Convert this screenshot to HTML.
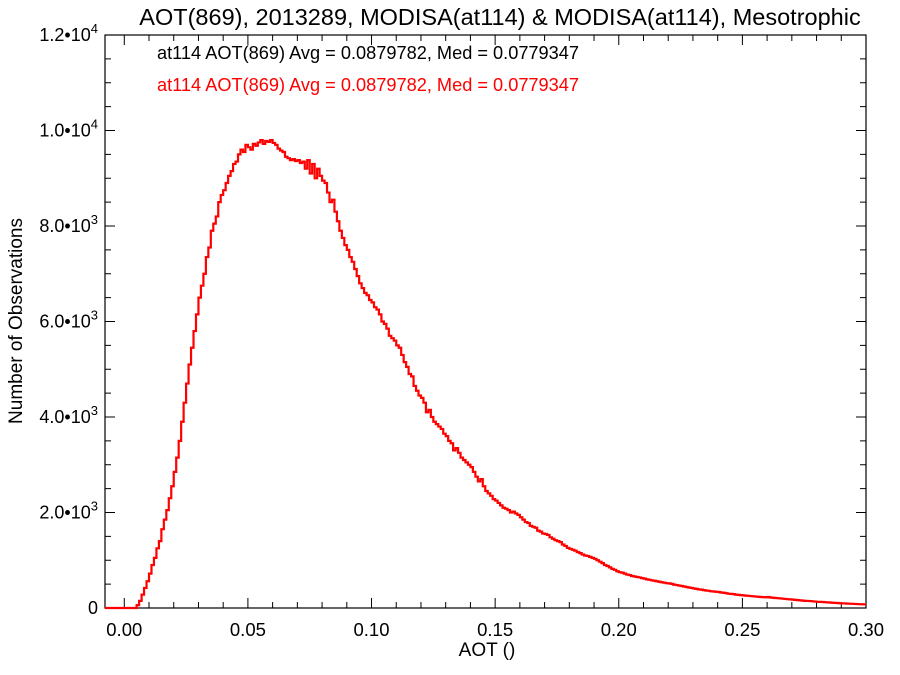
<!DOCTYPE html>
<html><head><meta charset="utf-8"><style>
body{margin:0;background:#fff;}
svg{display:block;font-family:"Liberation Sans",Helvetica,sans-serif;}
</style></head><body>
<svg id="chart" width="900" height="675" viewBox="0 0 900 675">
<text x="500" y="25" font-size="23.5" text-anchor="middle">AOT(869), 2013289, MODISA(at114) &amp; MODISA(at114), Mesotrophic</text>
<text x="157" y="59" font-size="18.2" fill="#000">at114 AOT(869) Avg = 0.0879782, Med = 0.0779347</text>
<text x="157" y="91" font-size="18.2" fill="#ff0000">at114 AOT(869) Avg = 0.0879782, Med = 0.0779347</text>
<text transform="translate(22,321) rotate(-90)" font-size="19" text-anchor="middle">Number of Observations</text>
<text x="487" y="656" font-size="19" text-anchor="middle">AOT ()</text>
<g id="axes"></g>
<path id="hist" fill="none" stroke="#ff0000" stroke-width="2.2"></path>
</svg>
<script>
const binStart = 0.0;
const binWidth = 0.001;
const counts = [
0,0,0,0,0,60,150,280,420,560,
720,900,1050,1250,1400,1650,1850,2050,2300,2550,
2850,3150,3500,3900,4300,4700,5100,5450,5800,6150,
6500,6750,7000,7350,7550,7900,8050,8200,8500,8650,
8750,8900,9050,9150,9300,9350,9500,9600,9550,9700,
9650,9600,9720,9680,9750,9800,9720,9780,9760,9800,
9740,9700,9620,9580,9550,9450,9420,9380,9400,9360,
9380,9320,9350,9200,9380,9100,9300,9000,9200,9050,
8950,8900,8700,8500,8550,8300,8100,7900,7750,7600,
7500,7350,7250,7100,6950,6800,6700,6600,6550,6450,
6400,6300,6250,6150,6000,5950,5850,5700,5650,5600,
5500,5450,5300,5150,5050,4900,4850,4650,4550,4450,
4400,4300,4100,4150,4000,3900,3850,3800,3750,3650,
3600,3500,3450,3300,3350,3250,3150,3100,3050,3000,
2950,2850,2750,2650,2700,2550,2450,2400,2350,2280,
2250,2200,2150,2100,2080,2050,2000,2020,1980,1950,
1900,1850,1800,1780,1720,1700,1680,1620,1600,1560,
1550,1530,1480,1450,1420,1400,1380,1330,1300,1260,
1240,1220,1200,1170,1150,1120,1100,1090,1070,1050,
1030,1000,970,940,900,880,850,820,800,770,
750,740,720,700,690,670,660,650,640,625,
615,600,590,580,570,560,550,540,530,520,
515,505,490,480,470,460,450,440,430,420,
410,400,390,385,375,365,360,350,345,340,
335,325,320,310,300,295,290,280,275,270,
265,260,255,250,245,240,235,230,228,225,
230,220,215,210,205,200,195,190,185,180,
175,170,165,160,155,150,148,145,140,135,
130,128,125,122,118,115,110,108,105,100,
98,95,92,90,88,85,82,80,78,75];
const xTicks = [0.00,0.05,0.10,0.15,0.20,0.25,0.30];
const xTickLabels = ["0.00","0.05","0.10","0.15","0.20","0.25","0.30"];
const yTicks = [0,2000,4000,6000,8000,10000,12000];
const yTickMant = ["0","2.0","4.0","6.0","8.0","1.0","1.2"];
const yTickExp = ["","3","3","3","3","4","4"];

const L=105,R=866,T=35,B=608;
const xMin=-0.0078,xMax=0.3;
const yMin=0,yMax=12000;
const sx=v=>L+(v-xMin)/(xMax-xMin)*(R-L);
const sy=v=>B-(v-yMin)/(yMax-yMin)*(B-T);
const NS="http://www.w3.org/2000/svg";
const ax=document.getElementById('axes');
function mk(tag,attrs){const e=document.createElementNS(NS,tag);for(const k in attrs)e.setAttribute(k,attrs[k]);ax.appendChild(e);return e;}
const frame=mk('rect',{x:L,y:T,width:R-L,height:B-T,fill:'none',stroke:'#000','stroke-width':1.2});


for(let i=0;i<=30;i++){const v=i*0.01;const x=sx(v);const len=(i%5===0)?10:6;
 const t1=mk('line',{x1:x,y1:B,x2:x,y2:B-len,stroke:'#000','stroke-width':1});
 
 
 const t2=mk('line',{x1:x,y1:T,x2:x,y2:T+len,stroke:'#000','stroke-width':1});
 
 }
xTicks.forEach((v,i)=>{const t=mk('text',{x:sx(v),y:636,'font-size':18.5,'text-anchor':'middle'});t.textContent=xTickLabels[i];
 
 });
for(let v=0;v<=12000;v+=500){const y=sy(v);const len=(v%2000===0)?10:6;
 const t1=mk('line',{x1:L,y1:y,x2:L+len,y2:y,stroke:'#000','stroke-width':1});
 
 
 const t2=mk('line',{x1:R,y1:y,x2:R-len,y2:y,stroke:'#000','stroke-width':1});
 
 }
yTicks.forEach((v,i)=>{const t=mk('text',{x:98,y:sy(v)+6,'font-size':18,'text-anchor':'end'});
 
 
 if(yTickExp[i]){t.innerHTML=yTickMant[i]+'\u2022'+'10<tspan dy="-8" font-size="13">'+yTickExp[i]+'</tspan>';}
 else t.textContent=yTickMant[i];});
let d='M'+L+','+sy(0)+' L'+sx(binStart)+','+sy(0);
counts.forEach((c,i)=>{const x0=sx(binStart+i*binWidth),x1=sx(binStart+(i+1)*binWidth);d+=' L'+x0.toFixed(2)+','+sy(c).toFixed(2)+' L'+x1.toFixed(2)+','+sy(c).toFixed(2);});
document.getElementById('hist').setAttribute('d',d);
</script>
</body></html>
